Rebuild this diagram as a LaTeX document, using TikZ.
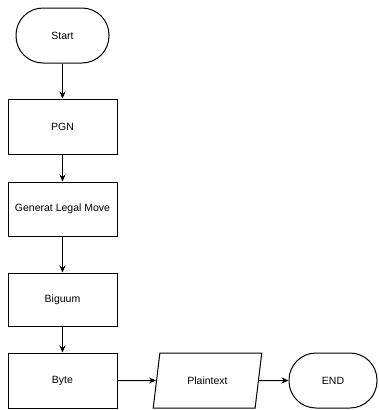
\documentclass[tikz,border=0pt]{standalone}
\usepackage{fontspec}
\setmainfont{Liberation Sans}
\usetikzlibrary{shapes.geometric,arrows.meta}
\begin{document}
\begin{tikzpicture}[x=1pt,y=-1pt,
  every node/.style={font=\fontsize{10.5}{12}\selectfont, inner sep=0pt, line width=1pt},
  procbox/.style={draw, rectangle, minimum width=109pt, minimum height=55pt},
  termbox/.style={draw, rectangle, rounded corners=27pt, minimum height=55pt},
  iobox/.style={draw, trapezium, trapezium left angle=70, trapezium right angle=110, trapezium stretches=true, minimum width=109pt, minimum height=55pt},
  flow/.style={-{Stealth[length=7pt,width=6pt]}, line width=1pt}]
\useasboundingbox (0,0) rectangle (379,410);
\node[termbox, minimum width=93pt] (start) at (62.5,35.5) {Start};
\node[procbox] (pgn) at (62.5,126.5) {PGN};
\node[procbox, minimum height=54pt] (glm) at (62.5,209) {Generat Legal Move};
\node[procbox, minimum height=53pt] (big) at (62.5,299.5) {Biguum};
\node[procbox] (byte) at (62.5,380.5) {Byte};
\node[iobox] (plain) at (207.5,380.5) {Plaintext};
\node[termbox, minimum width=88pt] (end) at (333,380.5) {END};
\draw[flow] (start) -- (pgn);
\draw[flow] (pgn) -- (glm);
\draw[flow] (glm) -- (big);
\draw[flow] (big) -- (byte);
\draw[flow] (byte) -- (plain);
\draw[flow] (plain) -- (end);
\end{tikzpicture}
\end{document}
